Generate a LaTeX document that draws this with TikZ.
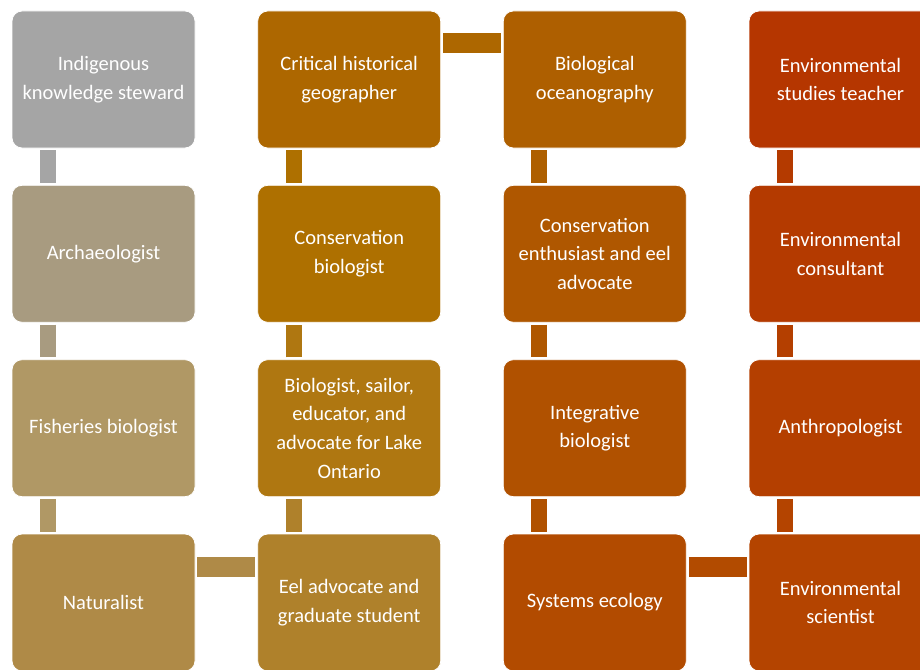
\documentclass[tikz,border=0pt]{standalone}
\usepackage{fontspec}
\setmainfont{Carlito}
\usepackage{tikz}
\usetikzlibrary{calc}
\usepackage{color}
\definecolor{grau}{rgb}{0.647,0.647,0.647}
\definecolor{sandA}{rgb}{0.659,0.608,0.502}
\definecolor{sandB}{rgb}{0.690,0.596,0.396}
\definecolor{sandC}{rgb}{0.686,0.541,0.278}
\definecolor{ockerA}{rgb}{0.678,0.404,0.0}
\definecolor{ockerB}{rgb}{0.682,0.439,0.0}
\definecolor{ockerC}{rgb}{0.686,0.467,0.067}
\definecolor{ockerD}{rgb}{0.686,0.506,0.169}
\definecolor{rostA}{rgb}{0.682,0.373,0.0}
\definecolor{rostB}{rgb}{0.686,0.341,0.0}
\definecolor{rostC}{rgb}{0.690,0.318,0.0}
\definecolor{rostD}{rgb}{0.698,0.294,0.0}
\definecolor{rotA}{rgb}{0.710,0.212,0.0}
\definecolor{rotB}{rgb}{0.706,0.227,0.0}
\definecolor{rotC}{rgb}{0.706,0.247,0.0}
\definecolor{rotD}{rgb}{0.706,0.267,0.0}
\tikzstyle{role} = [rectangle,rounded corners=10pt,draw=white,line width=0.8pt,minimum width=183pt,minimum height=137pt,inner sep=2pt,text=white,align=center,font=\fontsize{20.5}{28.7}\selectfont]
\tikzstyle{vlink} = [line width=16pt,shorten <=2pt,shorten >=2pt]
\tikzstyle{hlink} = [line width=20pt,shorten <=2pt,shorten >=2pt]

\begin{document}
\begin{tikzpicture}[x=1pt,y=1pt]
\useasboundingbox (0,0) rectangle (920,-669);

\node[role,fill=grau] (A1) at (103.5,-79.5) {Indigenous\\knowledge steward};
\node[role,fill=sandA] (A2) at (103.5,-253.8) {Archaeologist};
\node[role,fill=sandB] (A3) at (103.5,-428.2) {Fisheries biologist};
\node[role,fill=sandC] (A4) at (103.5,-602.5) {Naturalist};

\node[role,fill=ockerA] (B1) at (349.2,-79.5) {Critical historical\\geographer};
\node[role,fill=ockerB] (B2) at (349.2,-253.8) {Conservation\\biologist};
\node[role,fill=ockerC] (B3) at (349.2,-428.2) {Biologist, sailor,\\educator, and\\advocate for Lake\\Ontario};
\node[role,fill=ockerD] (B4) at (349.2,-602.5) {Eel advocate and\\graduate student};

\node[role,fill=rostA] (C1) at (594.8,-79.5) {Biological\\oceanography};
\node[role,fill=rostB] (C2) at (594.8,-253.8) {Conservation\\enthusiast and eel\\advocate};
\node[role,fill=rostC] (C3) at (594.8,-428.2) {Integrative\\biologist};
\node[role,fill=rostD] (C4) at (594.8,-602.5) {Systems ecology};

\node[role,fill=rotA] (D1) at (840.5,-79.5) {Environmental\\studies teacher};
\node[role,fill=rotB] (D2) at (840.5,-253.8) {Environmental\\consultant};
\node[role,fill=rotC] (D3) at (840.5,-428.2) {Anthropologist};
\node[role,fill=rotD] (D4) at (840.5,-602.5) {Environmental\\scientist};

\draw[vlink,draw=grau] ([xshift=-55.5pt]A1.south) -- ([xshift=-55.5pt]A2.north);
\draw[vlink,draw=sandA] ([xshift=-55.5pt]A2.south) -- ([xshift=-55.5pt]A3.north);
\draw[vlink,draw=sandB] ([xshift=-55.5pt]A3.south) -- ([xshift=-55.5pt]A4.north);
\draw[hlink,draw=sandC] ([yshift=35.5pt]A4.east) -- ([yshift=35.5pt]B4.west);

\draw[vlink,draw=ockerD] ([xshift=-55.5pt]B4.north) -- ([xshift=-55.5pt]B3.south);
\draw[vlink,draw=ockerC] ([xshift=-55.5pt]B3.north) -- ([xshift=-55.5pt]B2.south);
\draw[vlink,draw=ockerB] ([xshift=-55.5pt]B2.north) -- ([xshift=-55.5pt]B1.south);
\draw[hlink,draw=ockerA] ([yshift=36pt]B1.east) -- ([yshift=36pt]C1.west);

\draw[vlink,draw=rostA] ([xshift=-55.5pt]C1.south) -- ([xshift=-55.5pt]C2.north);
\draw[vlink,draw=rostB] ([xshift=-55.5pt]C2.south) -- ([xshift=-55.5pt]C3.north);
\draw[vlink,draw=rostC] ([xshift=-55.5pt]C3.south) -- ([xshift=-55.5pt]C4.north);
\draw[hlink,draw=rostD] ([yshift=35.5pt]C4.east) -- ([yshift=35.5pt]D4.west);

\draw[vlink,draw=rotD] ([xshift=-55.5pt]D4.north) -- ([xshift=-55.5pt]D3.south);
\draw[vlink,draw=rotC] ([xshift=-55.5pt]D3.north) -- ([xshift=-55.5pt]D2.south);
\draw[vlink,draw=rotB] ([xshift=-55.5pt]D2.north) -- ([xshift=-55.5pt]D1.south);
\end{tikzpicture}
\end{document}
